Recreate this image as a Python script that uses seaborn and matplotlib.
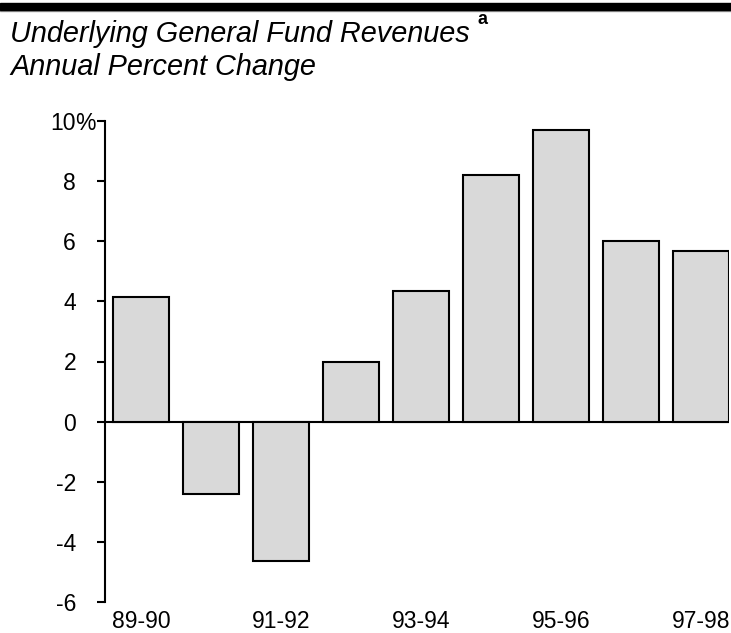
import matplotlib
matplotlib.use("Agg")
import matplotlib.pyplot as plt
import seaborn as sns
import pandas as pd
from matplotlib.patches import Rectangle
from matplotlib.lines import Line2D

years = ["89-90", "90-91", "91-92", "92-93", "93-94", "94-95", "95-96", "96-97", "97-98"]
pct_change = [4.15, -2.42, -4.65, 1.97, 4.35, 8.2, 9.7, 6.0, 5.67]
shown_labels = ["89-90", "", "91-92", "", "93-94", "", "95-96", "", "97-98"]
yticks = [-6, -4, -2, 0, 2, 4, 6, 8, 10]
ytick_labels = ["-6", "-4", "-2", "0", "2", "4", "6", "8", "10"]
unit_suffix = "%"

sns.set_style("white")
plt.rcParams["font.family"] = ["Liberation Sans", "DejaVu Sans"]
plt.rcParams["text.color"] = "black"
plt.rcParams["xtick.color"] = "black"
plt.rcParams["ytick.color"] = "black"
plt.rcParams["xtick.labelcolor"] = "black"
plt.rcParams["ytick.labelcolor"] = "black"

df = pd.DataFrame({"year": years, "pct": pct_change})

fig = plt.figure(figsize=(7.31, 6.33), dpi=100)
ax = fig.add_axes([105/731, 1-602/633, (729-105)/731, (602-121)/633])

sns.barplot(data=df, x="year", y="pct", color="#d9d9d9", edgecolor="black",
            linewidth=1.5, width=0.8, saturation=1, ax=ax)

ax.set_xlim(-0.514, 8.4)
ax.set_ylim(-6, 10)
ax.set_yticks(yticks)
ax.set_yticklabels(ytick_labels, fontsize=16.5)
ax.set_xticks(range(len(years)))
ax.set_xticklabels(shown_labels, fontsize=16.5)
ax.tick_params(axis="x", length=0, pad=6, labelcolor="black")
ax.tick_params(axis="y", length=5.8, width=1.5, direction="out", color="black",
               labelcolor="black", pad=15, left=True)
ax.set_xlabel("")
ax.set_ylabel("")
for s in ["top", "right", "bottom"]:
    ax.spines[s].set_visible(False)
ax.spines["left"].set_linewidth(1.5)
ax.spines["left"].set_color("black")
ax.axhline(0, color="black", linewidth=1.5, zorder=0.5)

# percent sign hanging after the top tick label
ax.annotate(unit_suffix, xy=(0, yticks[-1]), xycoords=("axes fraction", "data"),
            xytext=(-29.5 * 72 / 100, 0), textcoords="offset points",
            ha="left", va="center_baseline", fontsize=16.5, color="black",
            annotation_clip=False)

# header bar
fig.add_artist(Rectangle((0, 1-10/633), 1, 7/633, transform=fig.transFigure,
                         color="black", zorder=10))
fig.add_artist(Line2D([0, 1], [1-10.5/633, 1-10.5/633], transform=fig.transFigure,
                      color="#999999", linewidth=1))

fig.text(10/731, 1-42/633, "Underlying General Fund Revenues", fontsize=20.8,
         style="italic", va="baseline", ha="left", color="black")
fig.text(477/731, 1-24/633, "a", fontsize=13, fontweight="bold", va="baseline",
         ha="left", color="black")
fig.text(10/731, 1-75/633, "Annual Percent Change", fontsize=20.8,
         style="italic", va="baseline", ha="left", color="black")

fig.savefig("out.png", dpi=100)
